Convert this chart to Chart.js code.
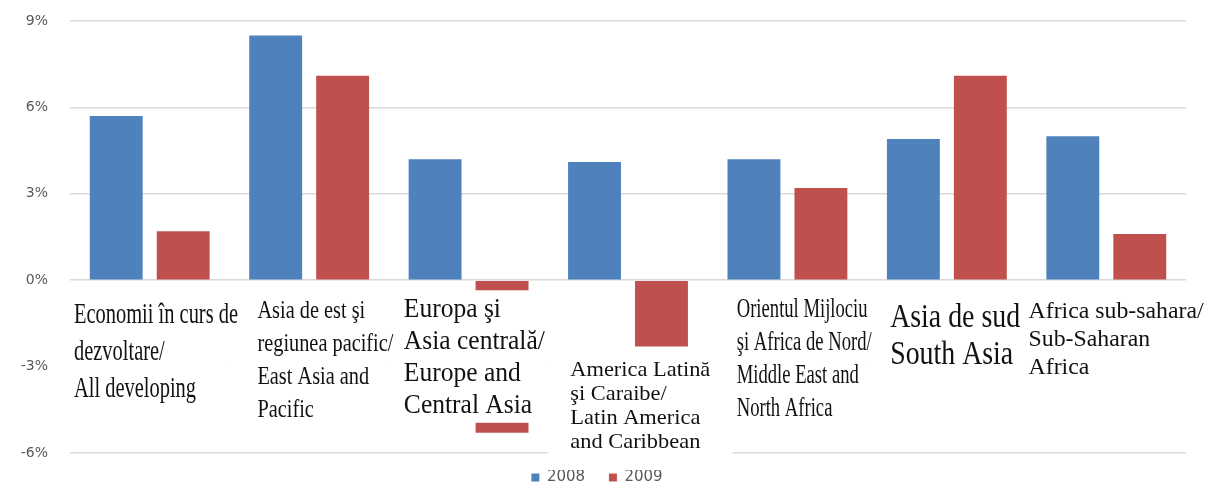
<!DOCTYPE html>
<html>
<head>
<meta charset="utf-8">
<script src="https://cdn.jsdelivr.net/npm/chart.js@4/dist/chart.umd.min.js"></script>
<style>
  html, body { margin: 0; padding: 0; background: #fff; }
  #wrap { width: 1208px; height: 483px; position: relative; }
</style>
</head>
<body>
<div id="wrap"><canvas id="chart"></canvas></div>
<script>
// Date: creșterea PIB (%), 2008 vs 2009
const categories = [
    ['Economii în curs de', 'dezvoltare/', 'All developing'],
    ['Asia de est şi', 'regiunea pacific/', 'East Asia and', 'Pacific'],
    ['Europa şi', 'Asia centrală/', 'Europe and', 'Central Asia'],
    ['America Latină', 'şi Caraibe/', 'Latin America', 'and Caribbean'],
    ['Orientul Mijlociu', 'şi Africa de Nord/', 'Middle East and', 'North Africa'],
    ['Asia de sud', 'South Asia'],
    ['Africa sub-sahara/', 'Sub-Saharan', 'Africa']
];
const seriesNames = ['2008', '2009'];
const values2008 = [5.7, 8.5, 4.2, 4.1, 4.2, 4.9, 5.0];
const values2009 = [1.7, 7.1, -5.3, -2.3, 3.2, 7.1, 1.6];
const yTicks = [-6, -3, 0, 3, 6, 9];

// Mise en page des étiquettes (texte superposé sur le graphique)
// dx: décalage depuis le bord gauche de la catégorie, dy: ligne de base sous le 0%
const labelStyle = [
    { size: 29, lh: 37, dx: 4,  dy: 43, width: 164 },
    { size: 26, lh: 33, dx: 28, dy: 38, width: 136 },
    { size: 27, lh: 32, dx: 15, dy: 37, width: 141 },
    { size: 22, lh: 24, dx: 22, dy: 96, width: 140 },
    { size: 28, lh: 33, dx: 29, dy: 37, width: 135 },
    { size: 34, lh: 37, dx: 23, dy: 47, width: 130 },
    { size: 24, lh: 28, dx: 2,  dy: 38, width: 175 }
];
// fonds blancs des zones de texte (en valeurs de l'axe y)
const labelBoxes = [
    { top: -0.35, bottom: -4.95, extL: 0, extR: 0 },
    { top: -0.35, bottom: -4.95, extL: 0, extR: 0 },
    { top: -0.35, bottom: -4.95, extL: 0, extR: 0 },
    { top: -2.4,  bottom: -6.05, extL: 0, extR: 25 },
    { top: -0.35, bottom: -4.95, extL: 0, extR: 0 },
    { top: -0.35, bottom: -4.95, extL: 0, extR: 0 },
    { top: -0.35, bottom: -4.95, extL: 0, extR: 0 }
];

const overlayLabels = {
    id: 'overlayLabels',
    afterDatasetsDraw(chart) {
        const ctx = chart.ctx;
        const xs = chart.scales.x;
        const ys = chart.scales.y;
        const catW = chart.chartArea.width / categories.length;
        const y0 = ys.getPixelForValue(0);

        ctx.save();
        ctx.fillStyle = '#ffffff';
        labelBoxes.forEach((b, i) => {
            const left = xs.getPixelForValue(i) - catW / 2 - b.extL;
            const right = xs.getPixelForValue(i) + catW / 2 + b.extR;
            const top = ys.getPixelForValue(b.top);
            const bottom = ys.getPixelForValue(b.bottom);
            ctx.fillRect(left, top, right - left, bottom - top);
        });

        ctx.fillStyle = '#111111';
        ctx.textBaseline = 'alphabetic';
        ctx.textAlign = 'left';
        categories.forEach((lines, i) => {
            const st = labelStyle[i];
            ctx.font = `${st.size}px "Liberation Serif", "Times New Roman", serif`;
            const widest = Math.max(...lines.map(l => ctx.measureText(l).width));
            const sx = st.width / widest;
            const x = xs.getPixelForValue(i) - catW / 2 + st.dx;
            lines.forEach((line, k) => {
                ctx.save();
                ctx.translate(x, y0 + st.dy + k * st.lh);
                ctx.scale(sx, 1);
                ctx.fillText(line, 0, 0);
                ctx.restore();
            });
        });
        ctx.restore();
    }
};

const ctx = document.getElementById('chart').getContext('2d');
new Chart(ctx, {
    type: 'bar',
    data: {
        labels: categories,
        datasets: [
            {
                label: seriesNames[0],
                data: values2008,
                backgroundColor: '#4F81BD',
                borderWidth: 0,
                categoryPercentage: 0.84,
                barPercentage: 0.79
            },
            {
                label: seriesNames[1],
                data: values2009,
                backgroundColor: '#C0504D',
                borderWidth: 0,
                categoryPercentage: 0.84,
                barPercentage: 0.79
            }
        ]
    },
    options: {
        responsive: true,
        maintainAspectRatio: false,
        animation: false,
        layout: {
            padding: { top: 21, right: 22, left: 8, bottom: -12 }
        },
        scales: {
            x: {
                afterFit: scale => { scale.height = 17; },
                ticks: { display: false },
                grid: { display: false },
                border: { display: false }
            },
            y: {
                min: -6,
                max: 9,
                afterBuildTicks: scale => {
                    scale.ticks = yTicks.map(v => ({ value: v }));
                },
                afterFit: scale => { scale.width = 62; },
                ticks: {
                    padding: 0,
                    color: '#595959',
                    font: { family: '"DejaVu Sans"', size: 14 },
                    callback: value => `${value}%`
                },
                grid: {
                    color: '#d9d9d9',
                    lineWidth: 1.5,
                    drawTicks: true,
                    tickLength: 22,
                    tickColor: 'rgba(0,0,0,0)'
                },
                border: { display: false }
            }
        },
        plugins: {
            legend: {
                position: 'bottom',
                labels: {
                    boxWidth: 8,
                    boxHeight: 8,
                    padding: 0,
                    color: '#595959',
                    font: { family: '"DejaVu Sans"', size: 15 },
                    generateLabels: chart => {
                        const items = Chart.defaults.plugins.legend.labels.generateLabels(chart);
                        // espace entre les deux entrées de la légende
                        items.forEach((it, i) => {
                            if (i < items.length - 1) it.text += '\u00a0\u00a0\u00a0\u00a0\u00a0';
                        });
                        return items;
                    }
                }
            },
            tooltip: { enabled: false }
        }
    },
    plugins: [overlayLabels]
});
</script>
</body>
</html>
